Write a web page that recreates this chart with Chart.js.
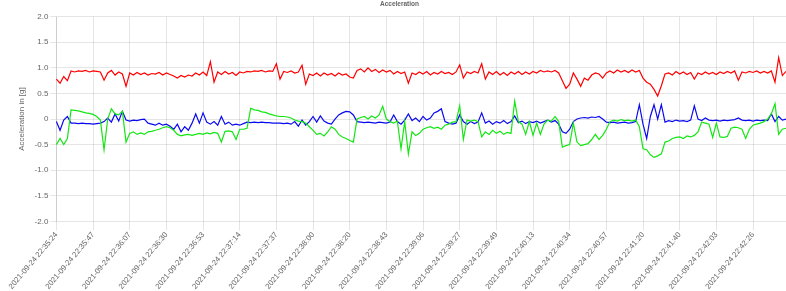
<!DOCTYPE html>
<html>
<head>
<meta charset="utf-8">
<script src="https://cdn.jsdelivr.net/npm/chart.js@4/dist/chart.umd.min.js"></script>
<style>
html,body{margin:0;padding:0;background:#fff;}
#wrap{width:786px;height:291px;position:relative;}
</style>
</head>
<body>
<div id="wrap"><canvas id="c"></canvas></div>
<script>
const tickLabels = ['2021-09-24 22:35:24','2021-09-24 22:35:47','2021-09-24 22:36:07','2021-09-24 22:36:30','2021-09-24 22:36:53','2021-09-24 22:37:14','2021-09-24 22:37:37','2021-09-24 22:38:00','2021-09-24 22:38:20','2021-09-24 22:38:43','2021-09-24 22:39:06','2021-09-24 22:39:27','2021-09-24 22:39:49','2021-09-24 22:40:13','2021-09-24 22:40:34','2021-09-24 22:40:57','2021-09-24 22:41:20','2021-09-24 22:41:40','2021-09-24 22:42:03','2021-09-24 22:42:26'];
const samplesPerTick = 10;

const redValues = [
0.78,0.70,0.83,0.75,0.94,0.92,0.94,0.93,0.95,0.92,
0.94,0.93,0.92,0.76,0.90,0.95,0.86,0.92,0.88,0.64,
0.90,0.86,0.91,0.87,0.90,0.86,0.89,0.88,0.91,0.86,
0.90,0.87,0.84,0.80,0.85,0.82,0.86,0.84,0.90,0.86,
0.92,0.85,1.12,0.72,0.92,0.87,0.93,0.88,0.91,0.85,
0.92,0.90,0.93,0.92,0.94,0.93,0.95,0.92,0.94,0.93,
1.08,0.78,0.93,0.91,0.94,0.90,0.92,1.05,0.68,0.88,
0.85,0.90,0.84,0.90,0.86,0.89,0.84,0.90,0.86,0.88,
0.82,0.80,0.95,0.98,0.92,1.00,0.93,0.97,0.91,0.96,
0.92,0.95,0.88,0.93,0.89,0.92,0.70,0.90,0.87,0.92,
0.88,0.93,0.86,0.91,0.88,0.93,0.89,0.91,0.87,0.92,
1.06,0.80,0.92,0.89,0.93,0.90,1.08,0.78,0.92,0.87,
0.93,0.86,0.91,0.85,0.92,0.88,0.93,0.87,0.92,0.88,
0.93,0.90,0.95,0.92,0.94,0.92,0.95,0.90,0.75,0.60,
0.68,0.90,0.78,0.64,0.80,0.76,0.86,0.90,0.88,0.80,
0.90,0.94,0.90,0.96,0.92,0.95,0.91,0.96,0.92,0.95,
0.80,0.72,0.68,0.58,0.45,0.65,0.88,0.90,0.86,0.93,
0.88,0.92,0.87,0.91,0.78,0.90,0.87,0.92,0.88,0.91,
0.87,0.92,0.89,0.93,0.90,0.94,0.76,0.92,0.90,0.93,
0.91,0.94,0.90,0.93,0.90,0.94,0.72,1.20,0.85,0.93];

const greenValues = [
-0.50,-0.38,-0.50,-0.38,0.18,0.17,0.16,0.14,0.12,0.11,
0.09,0.05,-0.02,-0.60,0.00,0.20,0.10,0.08,0.15,-0.45,
-0.28,-0.25,-0.30,-0.27,-0.30,-0.25,-0.24,-0.22,-0.20,-0.17,
-0.15,-0.17,-0.22,-0.30,-0.33,-0.31,-0.30,-0.32,-0.30,-0.28,
-0.30,-0.27,-0.29,-0.26,-0.28,-0.45,-0.24,-0.23,-0.25,-0.40,
-0.20,-0.20,-0.18,0.21,0.18,0.17,0.14,0.13,0.10,0.08,
0.06,0.05,0.05,0.04,0.02,-0.02,-0.04,-0.05,-0.08,-0.15,
-0.22,-0.30,-0.28,-0.33,-0.25,-0.15,-0.20,-0.30,-0.35,-0.38,
-0.42,-0.45,0.00,0.03,0.05,0.00,0.06,0.02,0.08,0.25,
0.00,-0.05,-0.08,-0.04,-0.58,-0.05,-0.68,-0.25,-0.32,-0.28,
-0.20,-0.17,-0.15,-0.18,-0.16,-0.20,-0.12,-0.10,-0.06,-0.05,
0.26,-0.40,-0.02,-0.04,-0.02,-0.05,-0.35,-0.25,-0.30,-0.22,
-0.28,-0.24,-0.30,-0.26,-0.28,0.35,-0.05,-0.10,-0.30,-0.05,
-0.32,-0.08,-0.30,-0.10,-0.02,-0.04,0.05,-0.05,-0.55,-0.52,
-0.50,-0.08,-0.45,-0.52,-0.50,-0.48,-0.40,-0.30,-0.40,-0.32,
-0.20,-0.05,-0.02,-0.04,-0.01,-0.03,-0.02,-0.04,-0.02,-0.15,
-0.58,-0.60,-0.70,-0.75,-0.72,-0.68,-0.45,-0.43,-0.38,-0.36,
-0.35,-0.38,-0.33,-0.35,-0.32,-0.25,-0.06,-0.08,-0.10,-0.36,
-0.08,-0.35,-0.36,-0.34,-0.18,-0.16,-0.17,-0.20,-0.38,-0.20,
-0.12,-0.10,-0.08,-0.05,0.00,0.10,0.30,-0.30,-0.20,-0.18];

const blueValues = [
-0.05,-0.22,-0.02,0.05,-0.08,-0.08,-0.09,-0.08,-0.09,-0.09,
-0.10,-0.09,-0.08,-0.05,0.02,-0.06,0.10,-0.04,0.15,-0.02,
-0.04,-0.02,-0.03,-0.01,0.00,-0.08,-0.10,-0.12,-0.08,-0.12,
-0.10,-0.14,-0.20,-0.10,-0.25,-0.15,-0.22,-0.08,0.10,-0.08,
0.12,-0.06,-0.10,-0.05,-0.12,0.05,-0.10,-0.06,-0.12,-0.10,
-0.12,-0.09,-0.06,-0.07,-0.06,-0.07,-0.06,-0.07,-0.07,-0.08,
-0.08,-0.08,-0.09,-0.08,-0.10,-0.05,-0.14,-0.02,-0.12,-0.05,
0.05,-0.06,0.06,-0.04,-0.08,-0.10,0.00,0.08,0.12,0.15,
0.14,0.08,-0.05,-0.06,-0.07,-0.06,-0.07,-0.08,-0.06,-0.07,
-0.08,-0.06,0.08,-0.05,-0.10,-0.02,0.10,-0.03,0.02,-0.05,
0.05,-0.02,0.02,0.12,0.15,0.20,-0.05,-0.08,-0.10,-0.08,
0.08,-0.05,-0.10,-0.05,-0.09,-0.06,0.12,-0.08,-0.04,-0.10,
-0.05,-0.08,-0.03,-0.09,-0.05,0.06,-0.07,-0.04,-0.09,-0.05,
-0.07,-0.04,-0.08,-0.05,-0.02,-0.06,-0.03,-0.10,-0.25,-0.28,
-0.20,-0.05,0.00,0.02,0.03,0.02,0.04,0.03,0.05,0.00,
-0.06,-0.07,-0.06,-0.08,-0.07,-0.06,-0.08,-0.07,-0.05,0.28,
-0.10,-0.38,0.05,0.28,0.00,0.28,-0.06,-0.03,-0.05,-0.02,
-0.04,-0.03,-0.05,-0.02,0.26,0.00,-0.03,0.02,-0.02,-0.03,
-0.02,-0.04,-0.02,-0.03,-0.02,-0.01,0.02,-0.02,-0.03,-0.02,
-0.04,-0.02,-0.03,-0.02,-0.03,0.10,-0.05,0.05,-0.02,0.00];

const yTitle = 'Acceleration in [g]';
const chartTitle = 'Acceleration';

const labels = redValues.map((v, i) => (i % samplesPerTick === 0 && tickLabels[i / samplesPerTick]) ? tickLabels[i / samplesPerTick] : '');

const FONT = "'Liberation Sans', Arial, Helvetica, sans-serif";
Chart.defaults.font.family = FONT;
Chart.defaults.font.size = 8;
Chart.defaults.color = '#666';

new Chart(document.getElementById('c'), {
  type: 'line',
  data: {
    labels: labels,
    datasets: [
      {label: 'x', data: redValues, borderColor: 'rgb(255,0,0)', borderWidth: 1.2, pointRadius: 0, fill: false, tension: 0},
      {label: 'y', data: greenValues, borderColor: 'rgb(20,230,20)', borderWidth: 1.2, pointRadius: 0, fill: false, tension: 0},
      {label: 'z', data: blueValues, borderColor: 'rgb(10,10,240)', borderWidth: 1.2, pointRadius: 0, fill: false, tension: 0}
    ]
  },
  options: {
    responsive: true,
    maintainAspectRatio: false,
    animation: false,
    layout: {padding: {left: 13, right: 0, top: 0, bottom: 0}},
    plugins: {
      legend: {display: false},
      tooltip: {enabled: false},
      title: {display: true, text: chartTitle, color: '#666', font: {size: 6.5, weight: 'bold'}, padding: {top: 0.5, bottom: 8.4}}
    },
    scales: {
      x: {
        grid: {color: 'rgba(0,0,0,0.1)', drawTicks: true, tickLength: 9},
        border: {display: false},
        ticks: {
          autoSkip: false, minRotation: 50, maxRotation: 50, padding: 0,
          font: {size: 7.7},
          callback: function(value) { const l = this.getLabelForValue(value); return l === '' ? null : l; }
        },
        afterFit: function(scale) { scale.paddingLeft = Math.min(scale.paddingLeft, 50); scale.paddingRight = 0; }
      },
      y: {
        min: -2, max: 2,
        grid: {color: 'rgba(0,0,0,0.1)', drawTicks: true, tickLength: 6},
        border: {color: 'rgba(0,0,0,0.1)'},
        ticks: {stepSize: 0.5, padding: 2},
        title: {display: true, text: yTitle, color: '#666', font: {size: 8}, padding: {top: 4, bottom: 6}}
      }
    }
  }
});
</script>
</body>
</html>
